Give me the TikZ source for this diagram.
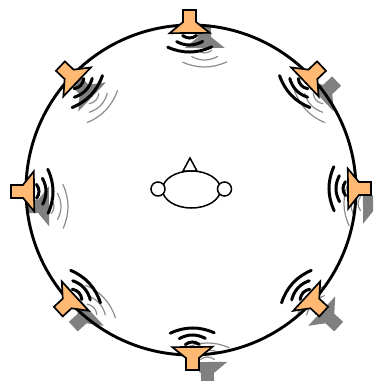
\documentclass[tikz,border=0pt]{standalone}
\definecolor{spkfill}{RGB}{255,185,115}
\definecolor{shadowgray}{gray}{0.5}
\definecolor{wavegray}{gray}{0.55}
\tikzset{
  spkbody/.style={draw=black,line width=1.7pt,line join=miter,fill=spkfill},
  spkshadow/.style={fill=shadowgray},
  wavefront/.style={draw=black,line width=3pt,line cap=round},
  waveshadow/.style={draw=wavegray,line width=1.2pt,line cap=round},
  headline/.style={draw=black,line width=1.5pt,fill=white},
  room/.style={draw=black,line width=2.9pt}
}
\newcommand{\spkpath}{(-6.5,-180) -- (6.5,-180) -- (6.5,-168) -- (20,-157) -- (-20,-157) -- (-6.5,-168) -- cycle}
\newcommand{\wavepaths}{%
  (-7,-154.5) .. controls (-2.33,-151.17) and (2.33,-151.17) .. (7,-154.5)
  (-13,-148.5) .. controls (-4.33,-143.83) and (4.33,-143.83) .. (13,-148.5)
  (-22,-143) .. controls (-7.33,-136.33) and (7.33,-136.33) .. (22,-143)}
\begin{document}
\begin{tikzpicture}[x=1pt,y=-1pt]
\clip (0,0) rectangle (373,381);
% shadows
\foreach \a in {-0.5,46.5,89.5,132.5,179.5,-132.5,-90.5,-46.5}{
  \begin{scope}[shift={(206,205)},rotate=-\a]
    \fill[spkshadow] \spkpath;
    \draw[waveshadow] \wavepaths;
  \end{scope}
}
% room
\draw[room] (191,190) circle [radius=165pt];
% speakers and wavefronts
\foreach \a in {-0.5,46.5,89.5,132.5,179.5,-132.5,-90.5,-46.5}{
  \begin{scope}[shift={(191,190)},rotate=-\a]
    \draw[wavefront] \wavepaths;
    \path[spkbody] \spkpath;
  \end{scope}
}
% listener
\path[headline] (183,171) -- (190,158) -- (197,171) -- cycle;
\path[headline] (191.5,189.5) ellipse [x radius=29pt,y radius=18.5pt];
\path[headline] (158,189) circle [radius=7pt];
\path[headline] (224.5,189) circle [radius=7pt];
\end{tikzpicture}
\end{document}
